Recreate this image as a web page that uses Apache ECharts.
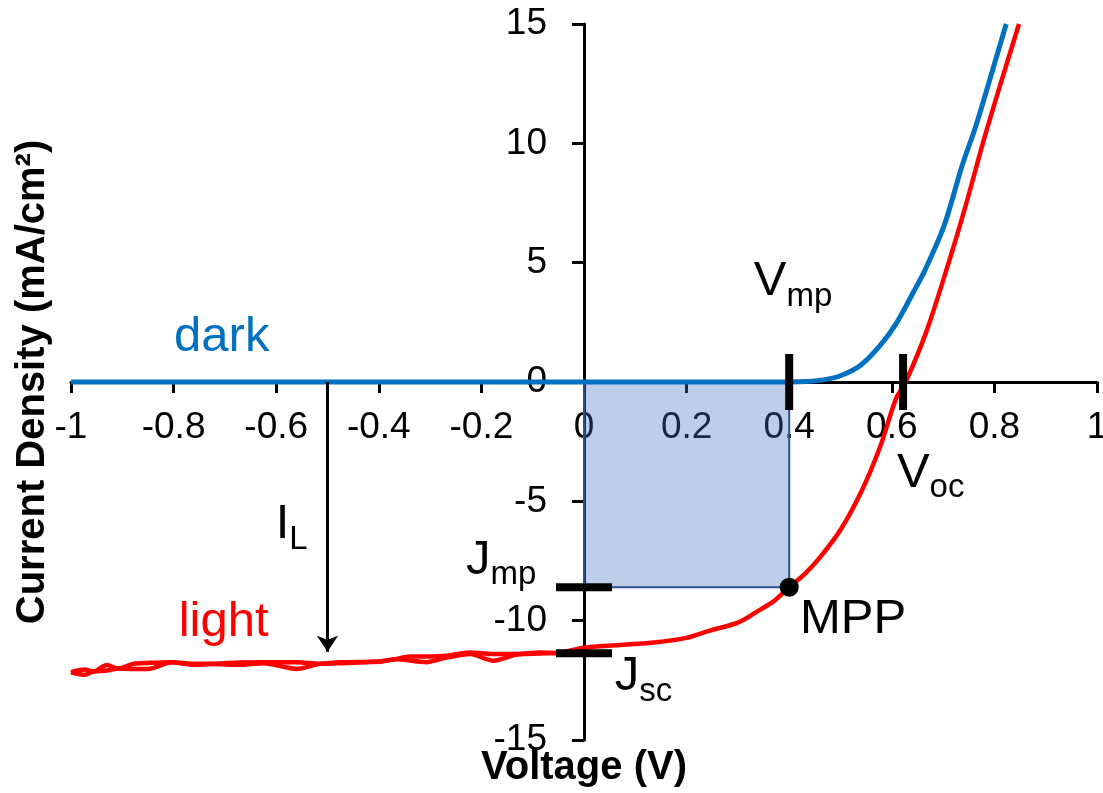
<!DOCTYPE html>
<html>
<head>
    <meta charset="utf-8">
    <script src="https://cdn.jsdelivr.net/npm/echarts@6/dist/echarts.min.js"></script>
    <style>
        html, body { margin: 0; padding: 0; background: #fff; }
        #iv { width: 1103px; height: 793px; }
    </style>
</head>
<body>
    <div id="iv"></div>
    <script type="text/javascript">
        // dark J-V curve [V, mA/cm2]
        var darkCurve = [
            [-1, 0], [0.4, 0], [0.434, 0.02], [0.47, 0.1], [0.5, 0.26], [0.538, 0.68],
            [0.577, 1.52], [0.61, 2.5], [0.642, 3.76], [0.665, 4.7], [0.702, 6.55],
            [0.737, 9.06], [0.764, 10.74], [0.799, 13.25], [0.823, 15.0]
        ];
        // light curve, first sweep
        var lightCurve = [
            [-1.0, -12.16], [-0.973, -12.05], [-0.957, -12.13], [-0.93, -11.86], [-0.908, -12.0],
            [-0.879, -11.81], [-0.849, -11.77], [-0.804, -11.74], [-0.762, -11.8], [-0.723, -11.8],
            [-0.671, -11.75], [-0.625, -11.74], [-0.56, -11.74], [-0.515, -11.81], [-0.476, -11.74],
            [-0.398, -11.72], [-0.365, -11.6], [-0.339, -11.5], [-0.307, -11.5], [-0.268, -11.47],
            [-0.222, -11.33], [-0.177, -11.4], [-0.131, -11.4], [-0.086, -11.33], [-0.053, -11.35],
            [0.0, -11.13], [0.07, -11.02], [0.141, -10.9], [0.2, -10.72], [0.245, -10.42],
            [0.3, -10.08], [0.335, -9.65], [0.37, -9.18], [0.4, -8.6], [0.43, -8.05], [0.46, -7.35],
            [0.501, -6.16], [0.543, -4.48], [0.578, -2.67], [0.608, -0.71], [0.627, 0],
            [0.667, 2.09], [0.709, 4.87], [0.744, 7.39], [0.778, 10.04], [0.813, 12.56], [0.848, 15.0]
        ];
        // light curve, return sweep (only differs in reverse bias)
        var lightReturn = [
            [-1.0, -12.16], [-0.973, -12.27], [-0.957, -12.13], [-0.93, -12.09], [-0.908, -12.0],
            [-0.879, -12.02], [-0.849, -12.02], [-0.804, -11.74], [-0.762, -11.85], [-0.723, -11.82],
            [-0.671, -11.85], [-0.625, -11.78], [-0.56, -12.02], [-0.515, -11.81], [-0.476, -11.78],
            [-0.398, -11.7], [-0.365, -11.62], [-0.307, -11.74], [-0.268, -11.55], [-0.222, -11.4],
            [-0.177, -11.68], [-0.131, -11.42], [-0.086, -11.38], [-0.053, -11.35]
        ];
        // key points
        var vmp = 0.4, jmp = -8.6;
        var voc = 0.622, jsc = -11.37;
        var ilV = -0.5, ilEnd = -11.3;
        var keyMarks = [[vmp, 0], [voc, 0], [0, jmp], [0, jsc]];

        var FONT = '"Liberation Sans", Arial, sans-serif';
        var BIG = 49, SMALL = 33;
        // annotation text, anchored at left/baseline in data units
        var notes = [
            { main: 'dark', at: [-0.799, 1.17], color: '#0070C0' },
            { main: 'light', at: [-0.79, -10.77], color: '#FF0000' },
            { main: 'V', sub: 'mp', at: [0.331, 3.48] },
            { main: 'V', sub: 'oc', at: [0.61, -4.55] },
            { main: 'J', sub: 'mp', at: [-0.23, -8.17] },
            { main: 'J', sub: 'sc', at: [0.06, -13.07] },
            { main: 'MPP', at: [0.421, -10.68] },
            { main: 'I', sub: 'L', at: [-0.601, -6.7] }
        ];

        var ctx = document.createElement('canvas').getContext('2d');
        function textW(s, size) {
            ctx.font = size + 'px ' + FONT;
            return ctx.measureText(s).width;
        }

        // plot box, axes cross at the centre (V = 0, J = 0)
        var G = { left: 71, right: 6, top: 24, bottom: 53 };
        var plotW = 1103 - G.left - G.right, plotH = 793 - G.top - G.bottom;

        var chart = echarts.init(document.getElementById('iv'));
        var option = {
            animation: false,
            backgroundColor: '#fff',
            grid: { left: G.left, right: G.right, top: G.top, bottom: G.bottom, outerBoundsMode: 'none', containLabel: false },
            xAxis: {
                type: 'value', min: -1, max: 1, interval: 0.2,
                position: 'bottom', offset: -plotH / 2,
                name: 'Voltage (V)', nameLocation: 'middle', nameGap: 366,
                nameTextStyle: { fontSize: 40, fontWeight: 'bold', color: '#000', fontFamily: FONT },
                axisLine: { onZero: false, lineStyle: { color: '#000', width: 3 } },
                axisTick: { length: 11, lineStyle: { color: '#000', width: 3 } },
                axisLabel: { fontSize: 37, color: '#000', margin: 27, fontFamily: FONT },
                splitLine: { show: false }
            },
            yAxis: {
                type: 'value', min: -15, max: 15, interval: 5,
                position: 'left', offset: -plotW / 2,
                name: 'Current Density (mA/cm\u00b2)', nameLocation: 'middle', nameGap: 531,
                nameTextStyle: { fontSize: 40, fontWeight: 'bold', color: '#000', fontFamily: FONT },
                axisLine: { onZero: false, lineStyle: { color: '#000', width: 3 } },
                axisTick: { length: 12, lineStyle: { color: '#000', width: 3 } },
                axisLabel: { fontSize: 37, color: '#000', margin: 37, fontFamily: FONT },
                splitLine: { show: false }
            },
            series: [
                {
                    name: 'light return', type: 'line', data: lightReturn, smooth: 0.25,
                    showSymbol: false, z: 2,
                    lineStyle: { color: '#FF0000', width: 4.5 }
                },
                {
                    name: 'light', type: 'line', data: lightCurve, smooth: 0.3,
                    showSymbol: false, z: 2,
                    lineStyle: { color: '#FF0000', width: 4.5 }
                },
                {
                    name: 'dark', type: 'line', data: darkCurve, smooth: 0.3,
                    showSymbol: false, z: 3,
                    lineStyle: { color: '#0070C0', width: 5 },
                    markArea: {
                        silent: true,
                        itemStyle: { color: 'rgba(68,114,196,0.35)', borderColor: '#2F528F', borderWidth: 2 },
                        data: [[{ coord: [0, 0] }, { coord: [vmp, jmp] }]]
                    },
                    markLine: {
                        silent: true,
                        symbol: ['none', 'arrow'], symbolSize: 16,
                        lineStyle: { color: '#000', width: 3, type: 'solid' },
                        label: { show: false },
                        data: [[{ coord: [ilV, 0] }, { coord: [ilV, ilEnd] }]]
                    }
                },
                {
                    name: 'markers', type: 'custom', data: keyMarks, z: 6, silent: true,
                    renderItem: function (params, api) {
                        var p = api.coord([api.value(0), api.value(1)]);
                        var vertical = api.value(1) === 0;
                        var half = 28, thick = 8;
                        return {
                            type: 'rect',
                            shape: vertical
                                ? { x: p[0] - thick / 2, y: p[1] - half, width: thick, height: half * 2 }
                                : { x: p[0] - half, y: p[1] - thick / 2, width: half * 2, height: thick },
                            style: { fill: '#000' }
                        };
                    }
                },
                {
                    name: 'MPP', type: 'scatter', data: [[vmp, jmp]], z: 7, silent: true,
                    symbolSize: 19, itemStyle: { color: '#000', opacity: 1 }
                },
                {
                    name: 'notes', type: 'custom', data: notes.map(function (n) { return n.at; }),
                    z: 8, silent: true,
                    renderItem: function (params, api) {
                        var n = notes[params.dataIndex];
                        var p = api.coord([api.value(0), api.value(1)]);
                        var color = n.color || '#000';
                        var kids = [{
                            type: 'text',
                            style: {
                                text: n.main, x: p[0], y: p[1] - 0.347 * BIG,
                                fill: color, font: BIG + 'px ' + FONT,
                                align: 'left', verticalAlign: 'middle'
                            }
                        }];
                        if (n.sub) {
                            kids.push({
                                type: 'text',
                                style: {
                                    text: n.sub, x: p[0] + textW(n.main, BIG), y: p[1] + 9 - 0.347 * SMALL,
                                    fill: color, font: SMALL + 'px ' + FONT,
                                    align: 'left', verticalAlign: 'middle'
                                }
                            });
                        }
                        return { type: 'group', children: kids };
                    }
                }
            ]
        };
        chart.setOption(option);
    </script>
</body>
</html>
